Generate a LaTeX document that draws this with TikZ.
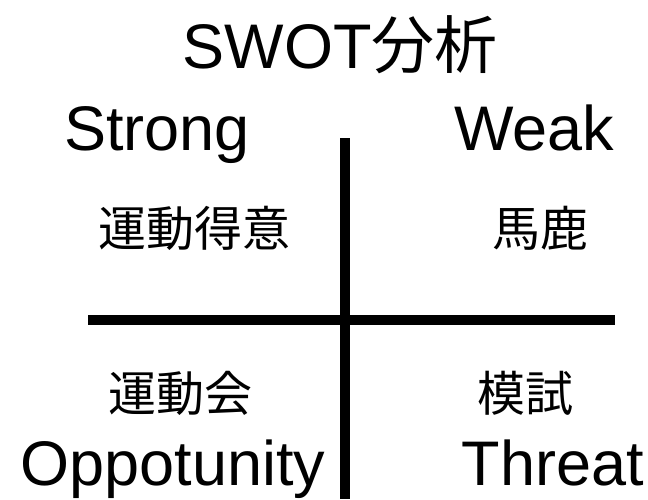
\documentclass[tikz,border=0pt]{standalone}
\usepackage{fontspec}
\setmainfont{Liberation Sans}
\newfontfamily\cjk{Noto Sans CJK JP}
\begin{document}
\begin{tikzpicture}[x=1pt,y=-1pt,
  lat/.style={anchor=base, inner sep=0pt, font=\fontsize{63}{63}\selectfont},
  jp/.style={anchor=center, inner sep=0pt, font=\cjk\fontsize{48}{48}\selectfont},
  bar/.style={line width=10pt}]
\useasboundingbox[fill=white] (0,0) rectangle (648,499);
\coordinate (vtop) at (345,138);
\coordinate (vbot) at (345,499);
\coordinate (hl) at (88,320);
\coordinate (hr) at (615,320);
\draw[bar] (vtop) -- (vbot);
\draw[bar] (hl) -- (hr);
\node[lat] (title) at (340,68) {SWOT{\cjk 分析}};
\node[lat] (strong) at (157,150) {Strong};
\node[lat] (weak) at (534,150) {Weak};
\node[lat] (opp) at (173,485) {Oppotunity};
\node[lat] (threat) at (553,485) {Threat};
\node[jp] (s1) at (194,228) {運動得意};
\node[jp] (w1) at (540,228) {馬鹿};
\node[jp] (o1) at (180,393) {運動会};
\node[jp] (t1) at (525,393) {模試};
\end{tikzpicture}
\end{document}
